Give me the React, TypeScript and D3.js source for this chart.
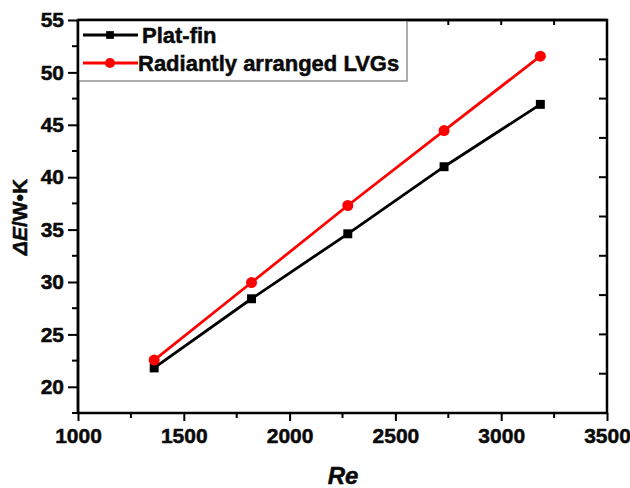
import * as React from "react";
import * as d3 from "d3";

const reValues = [1360, 1820, 2275, 2730, 3185];
const platFin = [21.8, 28.4, 34.6, 41.0, 46.95];
const radiantLVGs = [22.55, 29.95, 37.3, 44.45, 51.55];
const xTicks = [1000, 1500, 2000, 2500, 3000, 3500];
const yTicks = [20, 25, 30, 35, 40, 45, 50, 55];
const seriesNames = ["Plat-fin", "Radiantly arranged LVGs"];

const W = 630;
const H = 488;
const M = { left: 78, right: 23, top: 20, bottom: 75 };
const FONT = "'Liberation Sans', Arial, sans-serif";

export default function App() {
  const svgRef = React.useRef<SVGSVGElement>(null);

  React.useEffect(() => {
    const svg = d3.select(svgRef.current);
    svg.selectAll("*").remove();

    const x = d3.scaleLinear().domain([1000, 3500]).range([M.left, W - M.right]);
    const y = d3.scaleLinear().domain([17.5, 55]).range([H - M.bottom, M.top]);
    const [x0, x1] = x.range();
    const [y0, y1] = y.range();

    const g = svg.append("g");

    // heavy, slightly smeared text like the scanned figure
    const styleLabels = (sel: d3.Selection<any, any, any, any>, size: number) =>
      sel
        .style("font-size", `${size}px`)
        .style("font-weight", "700")
        .style("font-family", FONT)
        .style("fill", "#0a0a0a")
        .style("stroke", "#0a0a0a")
        .style("stroke-width", "0.5px");

    // bottom axis
    const bottom = d3.axisBottom(x).tickValues(xTicks).tickSize(8).tickFormat(d3.format("d"));
    const bx = g.append("g").attr("transform", `translate(0,${y0})`).call(bottom);
    bx.select(".domain").remove();
    bx.selectAll(".tick line").attr("stroke-width", 2);
    styleLabels(bx.selectAll(".tick text").attr("y", 14).attr("dy", "0.75em"), 21);
    // bottom minor
    g.append("g").selectAll("line")
      .data(d3.range(1250, 3500, 500))
      .join("line")
      .attr("x1", (d) => x(d)).attr("x2", (d) => x(d))
      .attr("y1", y0).attr("y2", y0 + 5)
      .attr("stroke", "#000").attr("stroke-width", 2);

    // left axis
    const left = d3.axisLeft(y).tickValues(yTicks).tickSize(10);
    const lx = g.append("g").attr("transform", `translate(${x0},0)`).call(left);
    lx.select(".domain").remove();
    lx.selectAll(".tick line").attr("stroke-width", 2);
    styleLabels(lx.selectAll(".tick text").attr("x", -14), 21);
    g.append("g").selectAll("line")
      .data(d3.range(17.5, 55, 5))
      .join("line")
      .attr("x1", x0 - 6).attr("x2", x0)
      .attr("y1", (d) => y(d)).attr("y2", (d) => y(d))
      .attr("stroke", "#000").attr("stroke-width", 2);

    // top ticks (inward)
    g.append("g").selectAll("line")
      .data(d3.range(1250, 3500, 250))
      .join("line")
      .attr("x1", (d) => x(d)).attr("x2", (d) => x(d))
      .attr("y1", y1).attr("y2", y1 + 5)
      .attr("stroke", "#000").attr("stroke-width", 2);

    // right ticks (inward)
    g.append("g").selectAll("line")
      .data(d3.range(1, 10).map((i) => 55 - i * 3.75))
      .join("line")
      .attr("x1", x1 - 8).attr("x2", x1)
      .attr("y1", (d) => y(d)).attr("y2", (d) => y(d))
      .attr("stroke", "#000").attr("stroke-width", 2);

    // frame
    g.append("rect")
      .attr("x", x0).attr("y", y1)
      .attr("width", x1 - x0).attr("height", y0 - y1)
      .attr("fill", "none").attr("stroke", "#000").attr("stroke-width", 2.5);

    // series
    const series = [
      { name: seriesNames[0], values: platFin, color: "#000", shape: "square" },
      { name: seriesNames[1], values: radiantLVGs, color: "#ff0000", shape: "circle" },
    ];
    const line = d3.line<[number, number]>().x((d) => x(d[0])).y((d) => y(d[1]));

    series.forEach((s) => {
      const pts = reValues.map((r, i) => [r, s.values[i]] as [number, number]);
      g.append("path")
        .attr("d", line(pts))
        .attr("fill", "none")
        .attr("stroke", s.color)
        .attr("stroke-width", 2.8);
      const sym = d3.symbol().type(s.shape === "square" ? d3.symbolSquare : d3.symbolCircle)
        .size(s.shape === "square" ? 80 : 95);
      g.append("g").selectAll("path")
        .data(pts)
        .join("path")
        .attr("d", sym)
        .attr("transform", (d) => `translate(${x(d[0])},${y(d[1])})`)
        .attr("fill", s.color);
    });

    // legend
    const legend = g.append("g");
    legend.append("rect")
      .attr("x", x0).attr("y", y1)
      .attr("width", 329).attr("height", 61)
      .attr("fill", "#fff").attr("stroke", "#777").attr("stroke-width", 1.2);
    series.forEach((s, i) => {
      const ly = 35 + i * 28;
      legend.append("line")
        .attr("x1", 83).attr("x2", 138)
        .attr("y1", ly).attr("y2", ly)
        .attr("stroke", s.color).attr("stroke-width", 2.8);
      legend.append("path")
        .attr("d", d3.symbol().type(s.shape === "square" ? d3.symbolSquare : d3.symbolCircle)
          .size(s.shape === "square" ? 60 : 80)())
        .attr("transform", `translate(110,${ly})`)
        .attr("fill", s.color);
      const t = legend.append("text")
        .attr("x", i === 0 ? 142 : 138)
        .attr("y", ly)
        .attr("dy", "0.36em")
        .text(s.name);
      styleLabels(t, 22);
    });
    // redraw frame top/left over legend
    g.append("line").attr("x1", x0).attr("x2", x0).attr("y1", y1).attr("y2", y0)
      .attr("stroke", "#000").attr("stroke-width", 2.5);
    g.append("line").attr("x1", x0).attr("x2", x1).attr("y1", y1).attr("y2", y1)
      .attr("stroke", "#000").attr("stroke-width", 2.5);

    // axis titles
    const xt = svg.append("text")
      .attr("x", 343).attr("y", 476)
      .attr("dy", "0.35em")
      .attr("text-anchor", "middle")
      .style("font-style", "italic")
      .text("Re");
    styleLabels(xt, 24);

    const yt = svg.append("text")
      .attr("transform", "translate(20,217) rotate(-90)")
      .attr("dy", "0.35em")
      .attr("text-anchor", "middle");
    styleLabels(yt, 21);
    yt.append("tspan").style("font-style", "italic").text("ΔE");
    yt.append("tspan").text("/W•K");
  }, []);

  return (
    <svg
      ref={svgRef}
      width={W}
      height={H}
      style={{ position: "absolute", left: 0, top: 0, background: "#fff" }}
    />
  );
}
